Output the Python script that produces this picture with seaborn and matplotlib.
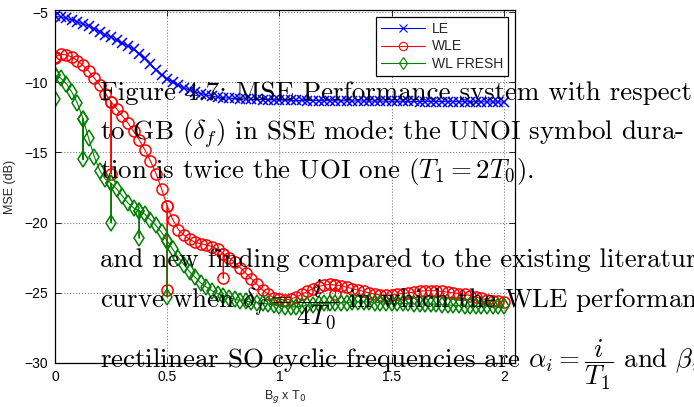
import numpy as np
import matplotlib
matplotlib.use("Agg")
import matplotlib.pyplot as plt
from matplotlib.lines import Line2D
import seaborn as sns

# sample grid of the curves (step 0.025 on B_g x T_0)
bgt = np.linspace(0, 2, 81)

le_mse = [-5.3, -5.35, -5.45, -5.55, -5.7, -5.85, -6.0, -6.2, -6.4, -6.6,
          -6.8, -7.0, -7.2, -7.4, -7.65, -7.95, -8.3, -8.7, -9.1, -9.45,
          -9.75, -10.0, -10.2, -10.4, -10.55, -10.7, -10.8, -10.9, -11.0, -11.05,
          -11.1, -11.12, -11.15, -11.17, -11.19, -11.2, -11.22, -11.23, -11.24, -11.25,
          -11.27, -11.28, -11.28, -11.29, -11.29, -11.3, -11.3, -11.3, -11.31, -11.31,
          -11.32, -11.32, -11.32, -11.33, -11.33, -11.33, -11.34, -11.34, -11.34, -11.35,
          -11.35, -11.35, -11.36, -11.36, -11.36, -11.37, -11.37, -11.37, -11.37, -11.38,
          -11.38, -11.38, -11.38, -11.39, -11.39, -11.39, -11.39, -11.4, -11.4, -11.4,
          -11.4]

wle_mse = [-8.2, -8.0, -8.05, -8.2, -8.45, -8.8, -9.2, -9.7, -10.2, -10.8,
           -11.4, -11.9, -12.4, -12.9, -13.5, -14.1, -14.8, -15.6, -16.5, -17.6,
           -18.8, -19.8, -20.5, -20.9, -21.2, -21.4, -21.5, -21.6, -21.7, -21.9,
           -22.2, -22.5, -22.8, -23.2, -23.6, -24.0, -24.4, -24.8, -25.1, -25.35,
           -25.45, -25.5, -25.45, -25.3, -25.1, -24.9, -24.7, -24.55, -24.45, -24.4,
           -24.45, -24.5, -24.6, -24.7, -24.8, -24.9, -25.0, -25.1, -25.15, -25.15,
           -25.15, -25.1, -25.05, -25.0, -24.95, -24.9, -24.85, -24.85, -24.85, -24.9,
           -24.95, -25.0, -25.05, -25.1, -25.2, -25.3, -25.4, -25.5, -25.55, -25.6,
           -25.65]

fresh_mse = [-9.5, -9.7, -10.1, -10.7, -11.5, -12.6, -14.0, -15.3, -16.3, -16.9,
             -17.2, -17.6, -18.1, -18.6, -18.95, -19.15, -19.4, -19.8, -20.2, -20.7,
             -21.3, -21.9, -22.5, -23.0, -23.5, -23.9, -24.3, -24.6, -24.85, -25.05,
             -25.2, -25.35, -25.45, -25.55, -25.6, -25.65, -25.7, -25.75, -25.8, -25.85,
             -25.95, -26.0, -26.0, -26.0, -25.95, -25.9, -25.85, -25.8, -25.75, -25.75,
             -25.7, -25.7, -25.7, -25.65, -25.65, -25.65, -25.65, -25.7, -25.7, -25.75,
             -25.75, -25.75, -25.75, -25.75, -25.8, -25.8, -25.8, -25.8, -25.8, -25.85,
             -25.85, -25.9, -25.9, -25.95, -25.95, -25.95, -25.95, -25.95, -25.95, -25.95,
             -25.95]

# isolated outlier samples (spikes) of the weighted estimators
wle_spike_x = [0, 0.25, 0.5, 0.75, 1.25]
wle_spike_y = [-8.3, -16.5, -24.8, -23.95, -25.1]
fresh_spike_x = [0, 0.125, 0.25, 0.375, 0.5]
fresh_spike_y = [-11.2, -15.5, -20.0, -21.1, -25.3]

series_names = ["LE", "WLE", "WL FRESH"]
xtick_vals = [0, 0.5, 1, 1.5, 2]
xtick_text = ["0", "0.5", "1", "1.5", "2"]
ytick_vals = [-30, -25, -20, -15, -10, -5]
ytick_text = ["\u221230", "\u221225", "\u221220", "\u221215", "\u221210", "\u22125"]

# text of the document page lying over the figure
page_lines = [
    "Figure 4.7: MSE Performance system with respect",
    r"to GB ($\delta_f$) in SSE mode: the UNOI symbol dura-",
    r"tion is twice the UOI one ($T_1 = 2T_0$).",
    "and new finding compared to the existing literature",
    r"curve when $\delta_f = \dfrac{i}{4T_0}$ in which the WLE performance",
    r"rectilinear SO cyclic frequencies are $\alpha_i = \dfrac{i}{T_1}$ and $\beta_i$",
]
page_baselines = [100, 140, 178, 267, 307, 368]


def with_spikes(xs, ys, sx, sy):
    # put each outlier right after its grid sample, then come back to the curve
    px, py = [], []
    for xv, yv in zip(xs, ys):
        px.append(xv)
        py.append(yv)
        for ox, oy in zip(sx, sy):
            if abs(ox - xv) < 1e-9:
                px += [xv, xv]
                py += [oy, yv]
    return px, py


sns.set_style("ticks")
plt.rcParams['font.family'] = ['Liberation Sans', 'DejaVu Sans']

fig = plt.figure(figsize=(6.94, 4.07), dpi=100)
ax = fig.add_axes([55 / 694, 1 - 363 / 407, 460 / 694, 353 / 407])

styles = [("blue", "x", 7.0), ("red", "o", 8.0), ("green", "d", 8.0)]
wle_x, wle_y = with_spikes(bgt, wle_mse, wle_spike_x, wle_spike_y)
fresh_x, fresh_y = with_spikes(bgt, fresh_mse, fresh_spike_x, fresh_spike_y)
data = [(list(bgt), le_mse), (wle_x, wle_y), (fresh_x, fresh_y)]

handles = []
for (xs, ys), (col, mk, ms), name in zip(data, styles, series_names):
    sns.lineplot(x=xs, y=ys, ax=ax, color=col, marker=mk, markersize=ms,
                 markerfacecolor="none", markeredgecolor=col, markeredgewidth=1.1,
                 linewidth=0.8, estimator=None, sort=False)
    handles.append(Line2D([], [], color=col, marker=mk, markersize=6,
                          markerfacecolor="none", markeredgecolor=col,
                          markeredgewidth=0.8, linewidth=0.8, label=name))

ax.set_xlim(0, 2.05)
ax.set_ylim(-30, -4.85)
ax.set_xticks(xtick_vals)
ax.set_xticklabels(xtick_text)
ax.set_yticks(ytick_vals)
ax.set_yticklabels(ytick_text)
ax.tick_params(direction="in", top=True, right=True, length=4, width=0.6,
               labelsize=10, pad=5, colors="black")
ax.grid(True, linestyle=":", color="0.5", linewidth=0.8)
for sp in ax.spines.values():
    sp.set_color("black")
    sp.set_linewidth(0.9)

ax.set_xlabel("B$_g$ x T$_0$", fontsize=9, labelpad=3, math_fontfamily="dejavusans")
ax.set_ylabel("MSE (dB)", fontsize=9, labelpad=6)

leg = ax.legend(handles=handles, loc="upper right", bbox_to_anchor=(0.985, 0.98),
                borderaxespad=0, fontsize=10, frameon=True, fancybox=False,
                framealpha=1, edgecolor="black", handlelength=3.2, borderpad=0.35,
                labelspacing=0.25, handletextpad=0.5)
leg.get_frame().set_linewidth(0.9)

for line, base in zip(page_lines, page_baselines):
    fig.text(100 / 694, 1 - base / 407, line, fontsize=19.4, family="cmr10",
             math_fontfamily="cm", va="baseline", ha="left", color="black",
             zorder=20)

fig.savefig("out.png", dpi=100)
